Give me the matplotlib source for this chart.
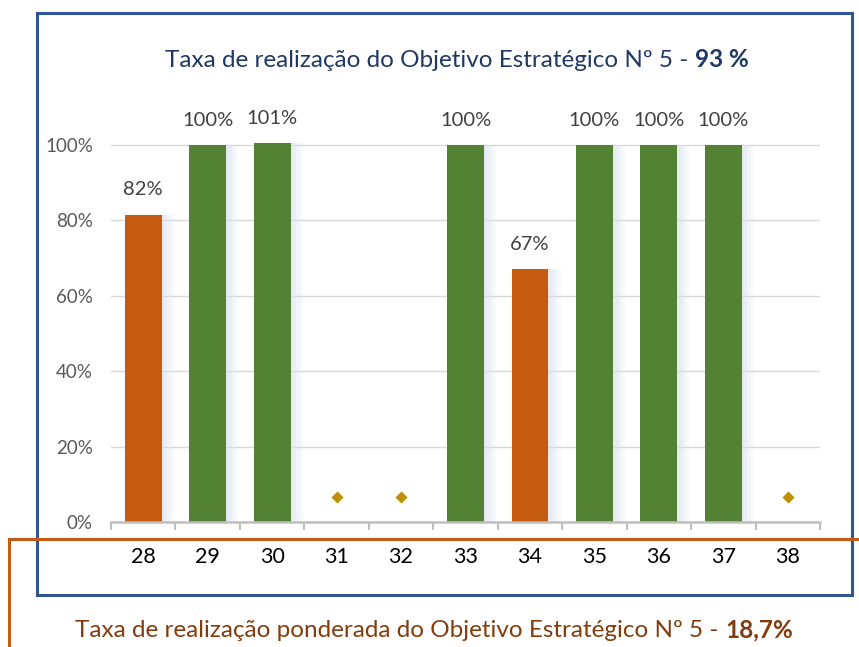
import matplotlib.pyplot as plt
from matplotlib.patches import Rectangle
import numpy as np

# data ---
categories = ['28', '29', '30', '31', '32', '33', '34', '35', '36', '37', '38']
values = [0.815, 1.0, 1.005, np.nan, np.nan, 1.0, 0.67, 1.0, 1.0, 1.0, np.nan]
value_labels = ['82%', '100%', '101%', '', '', '100%', '67%', '100%', '100%', '100%', '']
bar_colors = ['#C55A11', '#548235', '#548235', None, None, '#548235', '#C55A11',
              '#548235', '#548235', '#548235', None]
# diamonds for indicators without result
no_data_cats = ['31', '32', '38']
no_data_level = [0.066, 0.066, 0.066]
yticks = [0, 0.2, 0.4, 0.6, 0.8, 1.0]
ytick_labels = ['0%', '20%', '40%', '60%', '80%', '100%']

title_plain = 'Taxa de realização do Objetivo Estratégico Nº 5 - '
title_bold = '93 %'
bottom_plain = 'Taxa de realização ponderada do Objetivo Estratégico Nº 5 - '
bottom_bold = '18,7%'

plt.rcParams['font.family'] = ['Lato', 'DejaVu Sans']

W, H = 859, 647
fig = plt.figure(figsize=(W / 100, H / 100), dpi=100)

# boxes ---
fig.patches.append(Rectangle((37 / W, 1 - 595 / H), (852 - 37) / W, (595 - 13) / H,
                             transform=fig.transFigure, fill=False,
                             edgecolor='#2F5597', linewidth=2.2, zorder=1))
fig.patches.append(Rectangle((9 / W, -0.1), 1.2, 1.1 - 539 / H,
                             transform=fig.transFigure, fill=False,
                             edgecolor='#C55A11', linewidth=2.2, zorder=2))

# axes ---
ax = fig.add_axes([111 / W, 125 / H, 709 / W, 1.2 * 377 / H])
ax.set_xlim(-0.5, len(categories) - 0.5)
ax.set_ylim(0, 1.2)
x = np.arange(len(categories))

bw = 0.57
# soft glow to the right of bars
for k, off in enumerate([0.04, 0.09, 0.14, 0.19]):
    for i, v in enumerate(values):
        if np.isnan(v):
            continue
        ax.bar(x[i] + off, v, width=bw, color='#D9E0EE', alpha=0.35 - 0.07 * k,
               linewidth=0, zorder=1)

for i, v in enumerate(values):
    if np.isnan(v):
        continue
    ax.bar(x[i], v, width=bw, color=bar_colors[i], linewidth=0, zorder=3)
    ax.annotate(value_labels[i], (x[i], v), xytext=(0, 18), textcoords='offset points',
                ha='center', va='center', fontsize=14.5, color='#404040')

nd_x = [categories.index(c) for c in no_data_cats]
ax.scatter(nd_x, no_data_level, marker='D', s=38, color='#BF9000', zorder=4, linewidths=0)

ax.set_yticks(yticks)
ax.set_yticklabels(ytick_labels, fontsize=13.5, color='#595959')
ax.yaxis.grid(True, color='#D9D9D9', linewidth=1)
ax.set_axisbelow(True)
ax.tick_params(axis='y', length=0, pad=13)

ax.set_xticks(np.arange(len(categories) + 1) - 0.5, minor=False)
ax.set_xticklabels([])
ax.set_xticks(x, minor=True)
ax.set_xticklabels(categories, minor=True, fontsize=15.5, color='#000000')
ax.tick_params(axis='x', which='major', length=6, width=1.5, color='#BFBFBF', direction='out')
ax.tick_params(axis='x', which='minor', length=0, pad=18)

for s in ['top', 'right', 'left']:
    ax.spines[s].set_visible(False)
ax.spines['bottom'].set_color('#BFBFBF')
ax.spines['bottom'].set_linewidth(1.8)
ax.spines['bottom'].set_zorder(5)


def mixed_text(cx, base_y, plain, bold, color, size):
    # plain part followed by bold part, centred as a whole, same baseline
    t1 = fig.text(0, base_y, plain, fontsize=size, color=color, va='baseline', ha='left')
    t2 = fig.text(0, base_y, bold, fontsize=size, color=color, va='baseline', ha='left',
                  fontweight='bold')
    fig.canvas.draw()
    r = fig.canvas.get_renderer()
    w1 = t1.get_window_extent(r).width / W
    w2 = t2.get_window_extent(r).width / W
    start = cx - (w1 + w2) / 2
    t1.set_x(start)
    t2.set_x(start + w1)


mixed_text(457 / W, 1 - 67 / H, title_plain, title_bold, '#1F3864', 17.5)
mixed_text(434 / W, 1 - 637 / H, bottom_plain, bottom_bold, '#843C0C', 17.5)

fig.savefig('out.png', dpi=100)
